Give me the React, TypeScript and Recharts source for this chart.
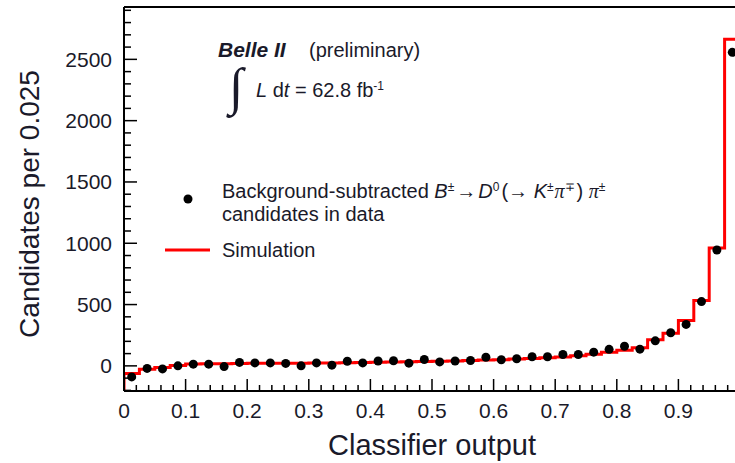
import { ComposedChart, XAxis, YAxis, Line, Scatter, Customized } from 'recharts';

// 40 bins of width 0.025 on the classifier output
const BIN_WIDTH = 0.025;
const binLowEdges = Array.from({ length: 40 }, (_, i) => +(i * BIN_WIDTH).toFixed(4));

// background-subtracted data (black points)
const dataCounts = [
  -90, -21, -25, 0, 14, 14, -6, 28, 24, 24,
  20, 0, 24, 6, 38, 24, 40, 42, 22, 52,
  32, 40, 44, 70, 50, 58, 74, 74, 93, 93,
  112, 135, 160, 136, 204, 270, 338, 524, 945, 2557,
];

// simulation (red histogram)
const simCounts = [
  -62, -28, -14, 4, 16, 18, 18, 20, 22, 22,
  22, 22, 24, 24, 26, 28, 30, 32, 33, 35,
  37, 40, 43, 47, 50, 55, 60, 66, 73, 82,
  95, 112, 128, 148, 212, 267, 370, 533, 961, 2663,
];

const X_DOMAIN = [0, 1];
const Y_DOMAIN = [-205, 2927];

// labelled ticks (1.0 falls just outside the picture)
const xMajorTicks = [0, 0.1, 0.2, 0.3, 0.4, 0.5, 0.6, 0.7, 0.8, 0.9];
const yMajorTicks = [0, 500, 1000, 1500, 2000, 2500];
const xAllTicks = Array.from({ length: 51 }, (_, i) => +(i * 0.02).toFixed(2));
const yAllTicks = Array.from({ length: 32 }, (_, i) => -200 + i * 100);

const FONT = '"Liberation Sans", Arial, Helvetica, sans-serif';
const SERIF = '"Liberation Serif", "Times New Roman", serif';
const TEXT = '#1a1a2a';

const dataPoints = binLowEdges.map((lo, i) => ({ x: lo + BIN_WIDTH / 2, y: dataCounts[i] }));
const simPoints = [
  { x: 0, y: Y_DOMAIN[0] },
  ...binLowEdges.map((lo, i) => ({ x: lo, y: simCounts[i] })),
  { x: 1, y: simCounts[simCounts.length - 1] },
];

function XTick(props: any) {
  const { x, y, payload } = props;
  const v = payload.value as number;
  const major = Math.abs(v * 10 - Math.round(v * 10)) < 1e-6;
  const labelled = xMajorTicks.some((t) => Math.abs(t - v) < 1e-6);
  return (
    <g>
      <line x1={x} x2={x} y1={y} y2={y - (major ? 12 : 6)} stroke="#000" strokeWidth={1.5} />
      {labelled && (
        <text x={x} y={y + 27} textAnchor="middle" fontFamily={FONT} fontSize={21} fill={TEXT}>
          {v === 0 ? '0' : v.toFixed(1)}
        </text>
      )}
    </g>
  );
}

function YTick(props: any) {
  const { x, y, payload } = props;
  const v = payload.value as number;
  const major = yMajorTicks.includes(v);
  return (
    <g>
      <line x1={x} x2={x + (major ? 13 : 7)} y1={y} y2={y} stroke="#000" strokeWidth={1.5} />
      {major && (
        <text x={x - 12} y={y + 7.5} textAnchor="end" fontFamily={FONT} fontSize={21} fill={TEXT}>
          {v}
        </text>
      )}
    </g>
  );
}

function Annotations() {
  const sup = { baselineShift: 'super', fontSize: 12 } as any;
  return (
    <g fontFamily={FONT} fill={TEXT}>
      <text x={39} y={204} fontSize={28} textAnchor="middle" transform="rotate(-90 39 204)">
        Candidates per 0.025
      </text>
      <text x={432} y={455} fontSize={29} textAnchor="middle">
        Classifier output
      </text>

      <text x={218} y={57} fontSize={21} fontWeight="bold" fontStyle="italic">Belle II</text>
      <text x={309} y={57} fontSize={20}>(preliminary)</text>
      <text x={229} y={104} fontSize={52} fontFamily={SERIF}>∫</text>
      <text x={256} y={97} fontSize={20}>
        <tspan fontStyle="italic">L</tspan>
        <tspan> d</tspan>
        <tspan fontStyle="italic">t</tspan>
        <tspan> = 62.8 fb</tspan>
        <tspan style={sup}>-1</tspan>
      </text>

      <circle cx={188} cy={199} r={4.5} fill="#000" />
      <text x={222} y={198} fontSize={20}>
        <tspan>Background-subtracted </tspan>
        <tspan fontStyle="italic">B</tspan>
        <tspan style={sup}>±</tspan>
        <tspan dx={2}>→</tspan>
        <tspan dx={2} fontStyle="italic">D</tspan>
        <tspan style={sup}>0</tspan>
        <tspan dx={2}>(→  </tspan>
        <tspan fontStyle="italic">K</tspan>
        <tspan style={sup}>±</tspan>
        <tspan dx={1} fontStyle="italic" fontFamily={SERIF}>π</tspan>
        <tspan style={sup}>∓</tspan>
        <tspan dx={2}>)  </tspan>
        <tspan fontStyle="italic" fontFamily={SERIF}>π</tspan>
        <tspan style={sup}>±</tspan>
      </text>
      <text x={222} y={221} fontSize={20}>candidates in data</text>

      <line x1={165} x2={210} y1={250} y2={250} stroke="#ff0000" strokeWidth={3} />
      <text x={222} y={257} fontSize={20}>Simulation</text>
    </g>
  );
}

export default function App() {
  return (
    <div style={{ position: 'absolute', left: 0, top: 0, width: 735, height: 463, overflow: 'hidden', background: '#fff' }}>
      <ComposedChart width={760} height={463} margin={{ top: 6, right: 20, bottom: 12, left: 4 }}>
        <XAxis
          dataKey="x"
          type="number"
          domain={X_DOMAIN}
          allowDataOverflow
          ticks={xAllTicks}
          interval={0}
          height={60}
          tickSize={0}
          tickMargin={0}
          tickLine={false}
          tick={<XTick />}
          axisLine={{ stroke: '#000', strokeWidth: 2 }}
        />
        <XAxis
          xAxisId="top"
          orientation="top"
          type="number"
          domain={X_DOMAIN}
          height={1}
          tick={false}
          tickLine={false}
          axisLine={{ stroke: '#000', strokeWidth: 2 }}
        />
        <YAxis
          dataKey="y"
          type="number"
          domain={Y_DOMAIN}
          allowDataOverflow
          ticks={yAllTicks}
          interval={0}
          width={120}
          tickSize={0}
          tickMargin={0}
          tickLine={false}
          tick={<YTick />}
          axisLine={{ stroke: '#000', strokeWidth: 2 }}
        />
        <Line
          data={simPoints}
          dataKey="y"
          type="stepAfter"
          stroke="#ff0000"
          strokeWidth={3}
          dot={false}
          activeDot={false}
          isAnimationActive={false}
        />
        <Scatter
          data={dataPoints}
          dataKey="y"
          fill="#000"
          shape={(p: any) => <circle cx={p.cx} cy={p.cy} r={4.5} fill="#000" />}
          isAnimationActive={false}
        />
        <Customized component={<Annotations />} />
      </ComposedChart>
    </div>
  );
}
